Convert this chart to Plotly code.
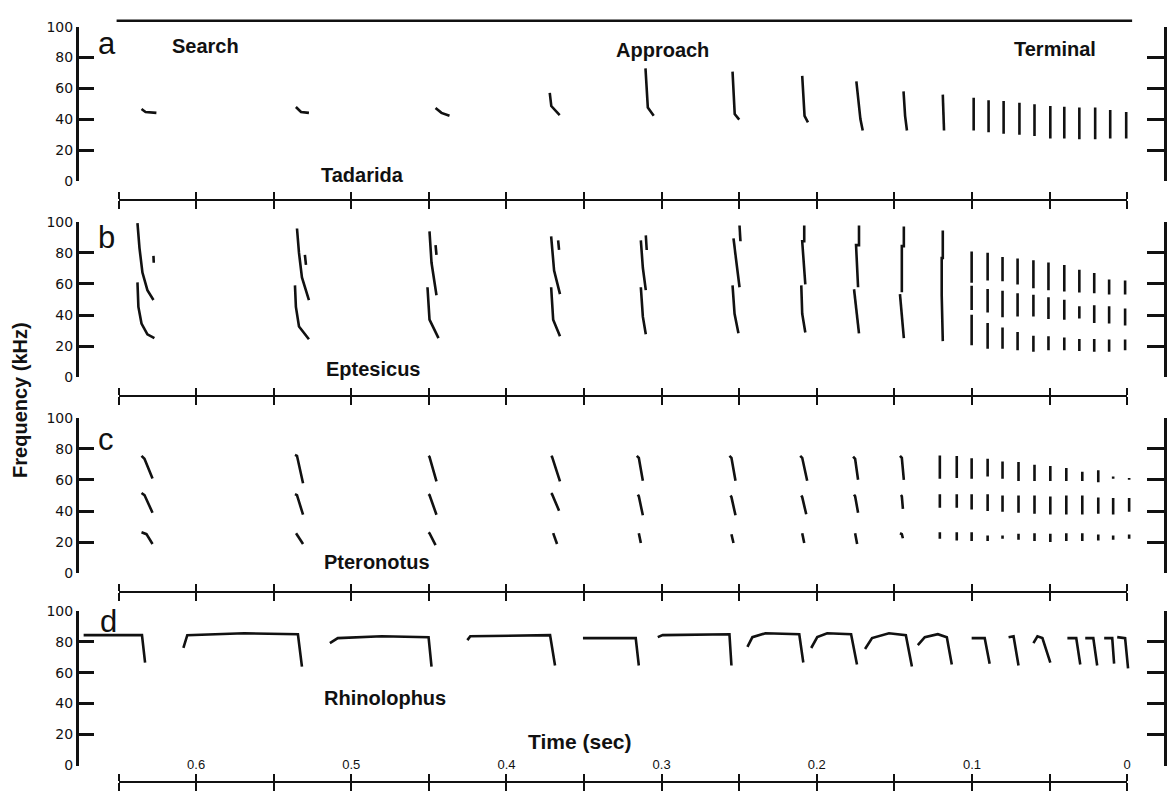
import plotly.graph_objects as go

W, H = 1169, 799

# ---------------- data ----------------
TIME_TICKS = [0, 0.05, 0.1, 0.15, 0.2, 0.25, 0.3, 0.35, 0.4, 0.45, 0.5, 0.55, 0.6, 0.65]
TIME_TICK_TEXT = ["0", "", "0.1", "", "0.2", "", "0.3", "", "0.4", "", "0.5", "", "0.6", ""]
FREQ_TICKS = [0, 20, 40, 60, 80, 100]

PHASES = ["Search", "Approach", "Terminal"]
SPECIES = ["Tadarida", "Eptesicus", "Pteronotus", "Rhinolophus"]
PANEL_LETTERS = ["a", "b", "c", "d"]

# Tadarida: search + approach calls (time s, frequency kHz)
TADARIDA_CALLS = [
    ([0.6352, 0.6326, 0.6256], [46.8, 44.9, 44.3]),
    ([0.5357, 0.5324, 0.5273], [48.1, 44.9, 44.3]),
    ([0.4457, 0.4419, 0.4367], [47.5, 44.3, 42.4]),
    ([0.3721, 0.3711, 0.3657], [57.2, 48.7, 42.8]),
    ([0.3104, 0.3089, 0.3051], [73.0, 47.7, 42.4]),
    ([0.2543, 0.2529, 0.2500], [70.9, 43.5, 39.9]),
    ([0.2094, 0.2079, 0.2057], [68.2, 42.4, 38.2]),
    ([0.1745, 0.1719, 0.1704], [64.6, 40.3, 32.9]),
    ([0.1441, 0.1431, 0.1419], [58.2, 42.4, 32.9]),
    ([0.1188, 0.1180], [56.1, 32.9]),
]
TADARIDA_TERM_T = [0.0989, 0.0893, 0.0796, 0.0694, 0.0597, 0.0495, 0.0405, 0.0308, 0.0206, 0.0109, 0.0006]
TADARIDA_TERM_HI = [54.0, 52.5, 51.9, 50.8, 49.8, 48.7, 48.3, 47.7, 47.7, 46.2, 44.9]
TADARIDA_TERM_LO = [32.9, 31.8, 30.8, 30.2, 29.3, 27.7, 27.7, 27.2, 27.2, 27.7, 27.7]

# Eptesicus: each call is a list of strokes (harmonics)
EPTESICUS_CALLS = [
    [([0.6378, 0.6365, 0.6346, 0.6314, 0.6275], [99.0, 83.0, 67.3, 56.0, 49.7]),
     ([0.6378, 0.6372, 0.6352, 0.6314, 0.6269], [61.0, 45.3, 34.6, 27.7, 25.2]),
     ([0.6275, 0.6273], [78.0, 73.6])],
    [([0.5350, 0.5337, 0.5318, 0.5273], [95.6, 79.9, 64.2, 49.7]),
     ([0.5363, 0.5357, 0.5337, 0.5273], [59.1, 45.3, 32.7, 24.5]),
     ([0.5299, 0.5292], [78.6, 72.3])],
    [([0.4496, 0.4483, 0.4451], [93.7, 73.6, 52.8]),
     ([0.4509, 0.4496, 0.4438], [57.9, 37.1, 25.2]),
     ([0.4457, 0.4451], [84.9, 78.6])],
    [([0.3712, 0.3693, 0.3655], [90.6, 68.6, 53.5]),
     ([0.3712, 0.3699, 0.3655], [57.9, 37.1, 26.4]),
     ([0.3667, 0.3661], [88.0, 81.8])],
    [([0.3134, 0.3121, 0.3102], [88.0, 70.4, 56.0]),
     ([0.3134, 0.3121, 0.3102], [57.9, 39.0, 27.7]),
     ([0.3102, 0.3096], [91.2, 81.8])],
    [([0.2498, 0.2492], [97.5, 87.4]),
     ([0.2537, 0.2498], [89.3, 57.9]),
     ([0.2543, 0.2530, 0.2505], [59.1, 40.9, 28.3])],
    [([0.2081, 0.2081, 0.2094, 0.2074], [97.5, 87.4, 87.4, 59.7]),
     ([0.2100, 0.2094, 0.2074], [59.1, 40.9, 28.9])],
    [([0.1728, 0.1728, 0.1747, 0.1734], [97.5, 84.9, 84.9, 57.9]),
     ([0.1760, 0.1728], [56.6, 28.3])],
    [([0.1439, 0.1439, 0.1452, 0.1452], [96.9, 84.3, 84.3, 54.7]),
     ([0.1464, 0.1439], [53.5, 25.2])],
    [([0.1188, 0.1188, 0.1195, 0.1195, 0.1188], [94.3, 76.7, 76.7, 52.8, 23.3])],
]
EPT_TERM_T = [0.1002, 0.0899, 0.0803, 0.0706, 0.0604, 0.0507, 0.0405, 0.0308, 0.0212, 0.0116, 0.0013]
EPT_UP_HI = [80.8, 80.0, 77.3, 76.3, 75.2, 73.8, 72.1, 69.1, 67.0, 62.9, 62.2]
EPT_UP_LO = [60.8, 62.2, 61.8, 59.7, 57.3, 56.0, 55.2, 54.6, 54.0, 53.2, 53.2]
EPT_MID_HI = [58.8, 56.7, 55.7, 54.0, 53.0, 51.5, 49.8, 45.7, 46.4, 45.7, 44.3]
EPT_MID_LO = [43.3, 41.7, 38.7, 39.1, 39.1, 37.5, 37.1, 37.9, 35.0, 34.6, 33.4]
EPT_LOW_HI = [40.3, 35.0, 32.0, 29.2, 26.8, 26.4, 25.7, 24.7, 24.7, 24.3, 24.3]
EPT_LOW_LO = [20.6, 18.5, 18.5, 17.5, 16.5, 17.5, 17.5, 16.9, 16.5, 16.5, 17.5]

# Pteronotus: three harmonics per call
PTERONOTUS_CALLS = [
    [([0.6352, 0.6333, 0.6281], [75.5, 73.6, 61.0]), ([0.6352, 0.6333, 0.6281], [51.6, 50.3, 39.0]),
     ([0.6352, 0.6320, 0.6281], [26.4, 25.2, 18.9])],
    [([0.5363, 0.5350, 0.5311], [76.1, 75.5, 57.9]), ([0.5363, 0.5350, 0.5311], [50.9, 50.3, 37.7]),
     ([0.5356, 0.5311], [25.8, 18.9])],
    [([0.4502, 0.4496, 0.4451], [75.5, 74.8, 59.1]), ([0.4502, 0.4496, 0.4451], [50.9, 50.3, 37.7]),
     ([0.4502, 0.4496, 0.4457], [26.4, 25.8, 18.2])],
    [([0.3712, 0.3706, 0.3655], [75.5, 74.8, 59.1]), ([0.3712, 0.3706, 0.3661], [51.6, 50.9, 40.3]),
     ([0.3699, 0.3674], [25.9, 18.9])],
    [([0.3160, 0.3147, 0.3121], [75.5, 74.2, 59.5]), ([0.3153, 0.3147, 0.3121], [50.6, 49.5, 37.3]),
     ([0.3147, 0.3134], [25.8, 19.5])],
    [([0.2563, 0.2550, 0.2524], [75.5, 74.2, 59.5]), ([0.2556, 0.2550, 0.2524], [50.0, 49.0, 37.3]),
     ([0.2550, 0.2537], [25.2, 19.5])],
    [([0.2107, 0.2094, 0.2062], [75.5, 74.2, 59.5]), ([0.2100, 0.2094, 0.2068], [50.0, 49.0, 38.0]),
     ([0.2094, 0.2081], [25.8, 19.5])],
    [([0.1766, 0.1753, 0.1734], [75.0, 73.6, 60.1]), ([0.1760, 0.1753, 0.1734], [50.6, 49.5, 39.0]),
     ([0.1753, 0.1740], [25.8, 18.9])],
    [([0.1464, 0.1452, 0.1439], [75.5, 74.2, 60.1]), ([0.1458, 0.1452, 0.1445], [50.3, 49.5, 41.5]),
     ([0.1464, 0.1452, 0.1445], [25.8, 25.2, 22.6])],
]
PTE_TERM_T = [0.1207, 0.1098, 0.1002, 0.0899, 0.0803, 0.0700, 0.0597, 0.0495, 0.0392, 0.0289, 0.0186, 0.0090, -0.0013]
PTE_TOP_HI = [75.7, 75.3, 74.0, 73.6, 71.9, 71.5, 69.8, 69.0, 67.7, 65.2, 66.3, 62.2, 61.2]
PTE_TOP_LO = [60.7, 61.2, 60.7, 62.2, 60.7, 59.4, 59.4, 59.4, 59.4, 59.4, 58.5, 60.7, 60.1]
PTE_MID_HI = [50.9, 50.9, 50.9, 50.9, 50.1, 50.1, 50.1, 49.4, 50.1, 50.1, 48.8, 48.4, 48.4]
PTE_MID_LO = [42.1, 42.1, 41.1, 40.0, 39.6, 39.0, 38.3, 37.9, 37.9, 37.9, 38.3, 37.9, 39.6]
PTE_LOW_HI = [26.4, 26.4, 26.4, 24.3, 24.3, 25.4, 25.8, 25.4, 25.8, 25.8, 25.0, 24.3, 25.0]
PTE_LOW_LO = [22.3, 21.2, 20.8, 20.8, 22.3, 21.6, 20.8, 20.1, 20.8, 20.8, 21.2, 21.6, 22.3]

# Rhinolophus: CF-FM calls
RHINOLOPHUS_CALLS = [
    ([0.6725, 0.6349, 0.6329], [84.2, 84.2, 66.5]),
    ([0.6082, 0.6057, 0.5690, 0.5344, 0.5318], [75.9, 84.2, 85.4, 84.8, 63.9]),
    ([0.5138, 0.5087, 0.4804, 0.4502, 0.4483], [79.1, 82.3, 83.5, 82.9, 63.9]),
    ([0.4252, 0.4233, 0.3719, 0.3687], [81.0, 83.5, 84.2, 64.6]),
    ([0.3507, 0.3167, 0.3147], [82.3, 82.3, 64.6]),
    ([0.3025, 0.2993, 0.2563, 0.2550], [82.9, 84.2, 84.8, 64.6]),
    ([0.2447, 0.2415, 0.2331, 0.2113, 0.2087], [76.6, 82.9, 85.4, 84.8, 66.5]),
    ([0.2036, 0.1997, 0.1933, 0.1779, 0.1741], [75.9, 82.9, 85.4, 84.8, 65.2]),
    ([0.1689, 0.1644, 0.1535, 0.1426, 0.1387], [75.3, 82.3, 85.4, 84.2, 63.9]),
    ([0.1349, 0.1304, 0.1220, 0.1162, 0.1130], [77.8, 82.9, 84.8, 82.9, 65.2]),
    ([0.1002, 0.0918, 0.0886], [82.3, 82.3, 65.8]),
    ([0.0764, 0.0732, 0.0700], [82.9, 83.5, 64.6]),
    ([0.0604, 0.0578, 0.0546, 0.0495], [79.1, 83.5, 82.3, 66.5]),
    ([0.0385, 0.0328, 0.0302], [82.3, 82.3, 65.2]),
    ([0.0270, 0.0218, 0.0193], [82.3, 82.3, 64.6]),
    ([0.0148, 0.0096, 0.0084], [82.3, 82.3, 65.8]),
    ([0.0064, 0.0013, -0.0006], [82.9, 82.3, 62.7]),
]

# ---------------- layout geometry (pixels) ----------------
T0_PX = 1131.0         # x pixel of t = 0
PX_PER_S = 1557.0
T_MAX = 0.65
YAXIS_PX = 77.0
RAXIS_PX = 1169.0
# (y pixel of 100 kHz, y pixel of 0 kHz, y pixel of time line)
PANELS_PX = [(19, 177, 196), (218, 377, 396), (418, 577, 596), (615, 773, 790)]
INK = "#111111"
LW = 2.6


def fx(px):
    return px / W


def fy(py):
    return 1 - py / H


def strokes_to_xy(strokes):
    xs, ys = [], []
    for t, f in strokes:
        xs += list(t) + [None]
        ys += list(f) + [None]
    return xs, ys


def term_strokes(ts, his, los):
    return [([t, t], [h, l]) for t, h, l in zip(ts, his, los)]


panel_strokes = [
    list(TADARIDA_CALLS) + term_strokes(TADARIDA_TERM_T, TADARIDA_TERM_HI, TADARIDA_TERM_LO),
    [s for call in EPTESICUS_CALLS for s in call]
    + term_strokes(EPT_TERM_T, EPT_UP_HI, EPT_UP_LO)
    + term_strokes(EPT_TERM_T, EPT_MID_HI, EPT_MID_LO)
    + term_strokes(EPT_TERM_T, EPT_LOW_HI, EPT_LOW_LO),
    [s for call in PTERONOTUS_CALLS for s in call]
    + term_strokes(PTE_TERM_T, PTE_TOP_HI, PTE_TOP_LO)
    + term_strokes(PTE_TERM_T, PTE_MID_HI, PTE_MID_LO)
    + term_strokes(PTE_TERM_T, PTE_LOW_HI, PTE_LOW_LO),
    list(RHINOLOPHUS_CALLS),
]

fig = go.Figure()
layout = dict(
    width=W, height=H, margin=dict(l=0, r=0, t=0, b=0),
    paper_bgcolor="white", plot_bgcolor="rgba(0,0,0,0)", showlegend=False,
    font=dict(family="Liberation Sans, Arial, sans-serif", color=INK),
)

# shared invisible data x axis spanning the full width
layout["xaxis"] = dict(domain=[0, 1], range=[T0_PX / PX_PER_S, (T0_PX - W) / PX_PER_S],
                       visible=False, fixedrange=True)

time_dom = [fx(T0_PX - T_MAX * PX_PER_S), fx(T0_PX)]
YD_LO, YD_HI = -15, 108

for i, (p100, p0, ptl) in enumerate(PANELS_PX):
    k = (p0 - p100) / 100.0
    yd, yl, yr = 1 + 3 * i, 2 + 3 * i, 3 + 3 * i
    xb, xt = 2 + 2 * i, 3 + 2 * i

    layout[f"yaxis{yd if yd > 1 else ''}"] = dict(
        domain=[fy(p0 - YD_LO * k), fy(p100 - (YD_HI - 100) * k)],
        range=[YD_LO, YD_HI], visible=False, fixedrange=True, anchor="x")
    common_y = dict(domain=[fy(p0), fy(p100)], range=[0, 100], anchor="free",
                    tickmode="array", tickvals=FREQ_TICKS, showline=True, linewidth=LW,
                    linecolor=INK, ticks="inside", tickwidth=LW, tickcolor=INK,
                    showgrid=False, zeroline=False, fixedrange=True)
    layout[f"yaxis{yl}"] = dict(common_y, position=fx(YAXIS_PX), side="left", ticklen=15,
                                 showticklabels=True,
                                 tickfont=dict(family="DejaVu Sans, sans-serif", size=14, color=INK))
    layout[f"yaxis{yr}"] = dict(common_y, position=fx(RAXIS_PX), side="right", ticklen=17,
                                 showticklabels=False)
    common_x = dict(domain=time_dom, range=[T_MAX, 0], anchor="free", position=fy(ptl),
                    tickmode="array", tickvals=TIME_TICKS, ticktext=TIME_TICK_TEXT,
                    showline=True, linewidth=2.2, linecolor=INK, ticks="outside",
                    tickwidth=2.2, tickcolor=INK, showgrid=False, zeroline=False,
                    fixedrange=True)
    layout[f"xaxis{xb}"] = dict(common_x, side="bottom", ticklen=8, showticklabels=False)
    layout[f"xaxis{xt}"] = dict(common_x, side="top", ticklen=7, showticklabels=(i == 3),
                                 tickfont=dict(family="Liberation Sans, sans-serif", size=13, color=INK))

    # helper traces that carry the decorative axes
    fig.add_trace(go.Scatter(x=[None], y=[None], xaxis=f"x{xb}", yaxis=f"y{yl}",
                             mode="markers", hoverinfo="skip"))
    fig.add_trace(go.Scatter(x=[None], y=[None], xaxis=f"x{xt}", yaxis=f"y{yr}",
                             mode="markers", hoverinfo="skip"))

    xs, ys = strokes_to_xy(panel_strokes[i])
    fig.add_trace(go.Scatter(x=xs, y=ys, mode="lines", name=SPECIES[i],
                             xaxis="x", yaxis=f"y{yd if yd > 1 else ''}",
                             line=dict(color=INK, width=LW), hoverinfo="skip"))

# ---------------- annotations ----------------
ann = []
LETTER_POS = [(107, 36), (107, 234), (106, 440), (109, 626)]
for letter, (px, py) in zip(PANEL_LETTERS, LETTER_POS):
    ann.append(dict(text=letter, x=fx(px), y=fy(py), xref="paper", yref="paper",
                    showarrow=False, xanchor="center", yanchor="middle",
                    font=dict(family="Liberation Sans, sans-serif", size=31, color=INK)))
PHASE_POS = [(206, 39), (665, 43), (1059, 42)]
for txt, (px, py) in zip(PHASES, PHASE_POS):
    ann.append(dict(text=f"<b>{txt}</b>", x=fx(px), y=fy(py), xref="paper", yref="paper",
                    showarrow=False, xanchor="center", yanchor="middle",
                    font=dict(family="Liberation Sans, sans-serif", size=20, color=INK)))
SPECIES_POS = [(320, 170), (325, 368), (323, 565), (323, 704)]
for txt, (px, py) in zip(SPECIES, SPECIES_POS):
    ann.append(dict(text=f"<b>{txt}</b>", x=fx(px), y=fy(py), xref="paper", yref="paper",
                    showarrow=False, xanchor="left", yanchor="middle",
                    font=dict(family="Liberation Sans, sans-serif", size=20, color=INK)))
ann.append(dict(text="<b>Time (sec)</b>", x=fx(582), y=fy(748), xref="paper", yref="paper",
                showarrow=False, xanchor="center", yanchor="middle",
                font=dict(family="Liberation Sans, sans-serif", size=21, color=INK)))
ann.append(dict(text="<b>Frequency (kHz)</b>", x=fx(20), y=fy(400), xref="paper", yref="paper",
                showarrow=False, xanchor="center", yanchor="middle", textangle=-90,
                font=dict(family="Liberation Sans, sans-serif", size=20, color=INK)))
layout["annotations"] = ann

# top border line over panel a
layout["shapes"] = [dict(type="line", xref="paper", yref="paper", x0=fx(117), x1=fx(1136),
                         y0=fy(13), y1=fy(13), line=dict(color=INK, width=2.4))]

fig.update_layout(**layout)
fig.write_html(
    "out.html",
    config={"displayModeBar": False},
    post_script="document.body.style.margin='0';document.body.style.overflow='hidden';",
)
